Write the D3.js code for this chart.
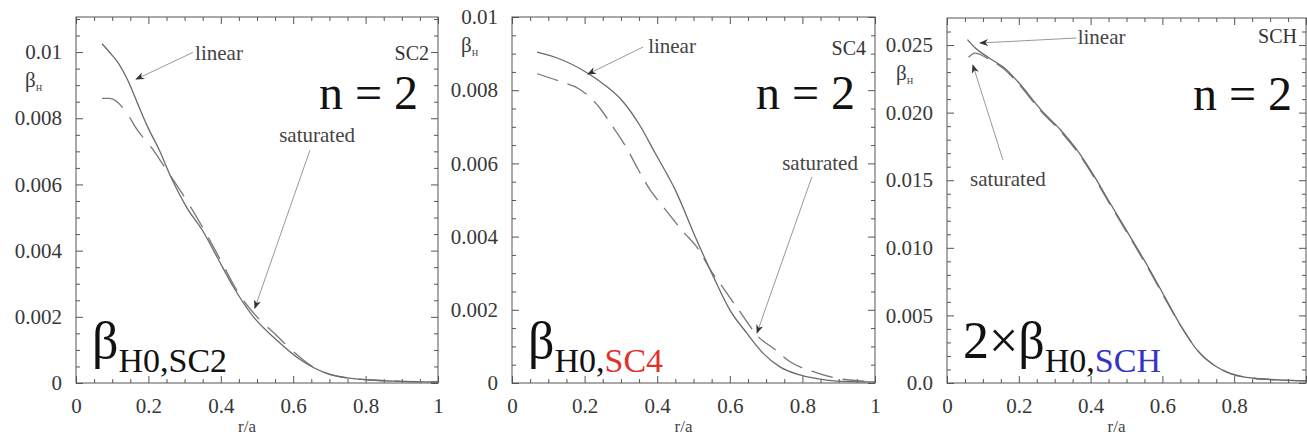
<!DOCTYPE html>
<html>
<head>
<meta charset="utf-8">
<script src="https://cdn.jsdelivr.net/npm/d3@7"></script>
<style>
  body { margin: 0; background: #fff; }
  svg { display: block; }
</style>
</head>
<body>
<div id="chart"></div>
<script>
// beta_H profiles vs r/a, n = 2, linear (solid) and saturated (dashed)

// x ticks shared by all panels
var xTicks = [0, 0.2, 0.4, 0.6, 0.8, 1];
var xTickLabels = ["0", "0.2", "0.4", "0.6", "0.8", "1"];
var xTickLabelsLast = ["0", "0.2", "0.4", "0.6", "0.8", ""];

// SC2
var sc2LinR   = [0.072, 0.10, 0.115, 0.143, 0.17, 0.198, 0.23, 0.262, 0.306, 0.35, 0.39, 0.435, 0.49, 0.554, 0.62, 0.69, 0.76, 0.81, 0.9, 1.0];
var sc2Linear = [0.01025, 0.0099, 0.0097, 0.00915, 0.00845, 0.00774, 0.00704, 0.00623, 0.0053, 0.0046, 0.0038, 0.0029, 0.0020, 0.0013, 0.0007, 0.0003, 0.00014, 0.00009, 0.00005, 0.00003];
var sc2SatR   = [0.072, 0.092, 0.138, 0.166, 0.216, 0.244, 0.295, 0.35, 0.40, 0.45, 0.50, 0.55, 0.60, 0.65, 0.70, 0.80, 0.90, 1.0];
var sc2Sat    = [0.0086, 0.0086, 0.0082, 0.0077, 0.0070, 0.00654, 0.0057, 0.0047, 0.0037, 0.0027, 0.0020, 0.00148, 0.00095, 0.00052, 0.00027, 0.0001, 0.00005, 0.00003];
var sc2YTicks = [0, 0.002, 0.004, 0.006, 0.008, 0.01];
var sc2YLabels = ["0", "0.002", "0.004", "0.006", "0.008", "0.01"];

// SC4
var sc4LinR   = [0.069, 0.119, 0.211, 0.257, 0.303, 0.349, 0.395, 0.45, 0.509, 0.555, 0.60, 0.647, 0.692, 0.738, 0.793, 0.867, 0.93, 1.0];
var sc4Linear = [0.00904, 0.0089, 0.00845, 0.00813, 0.00772, 0.00709, 0.00627, 0.00527, 0.0039, 0.0029, 0.0020, 0.00136, 0.00081, 0.00044, 0.00022, 0.00008, 0.00004, 0.00003];
var sc4SatR   = [0.069, 0.138, 0.184, 0.243, 0.275, 0.317, 0.344, 0.381, 0.417, 0.472, 0.509, 0.55, 0.583, 0.624, 0.683, 0.72, 0.766, 0.83, 0.894, 0.96, 1.0];
var sc4Sat    = [0.00845, 0.00822, 0.00804, 0.0075, 0.00704, 0.0064, 0.0059, 0.00527, 0.00481, 0.00413, 0.00372, 0.00304, 0.00258, 0.0020, 0.00122, 0.00095, 0.00058, 0.00031, 0.00013, 0.00006, 0.00004];
var sc4YTicks = [0, 0.002, 0.004, 0.006, 0.008, 0.01];
var sc4YLabels = ["0", "0.002", "0.004", "0.006", "0.008", "0.01"];

// SCH
var schLinR   = [0.057, 0.078, 0.114, 0.16, 0.197, 0.262, 0.317, 0.363, 0.41, 0.45, 0.504, 0.56, 0.606, 0.652, 0.698, 0.745, 0.79, 0.855, 0.95, 1.0];
var schLinear = [0.0254, 0.0248, 0.0241, 0.0233, 0.0223, 0.0202, 0.0187, 0.0172, 0.0153, 0.0135, 0.0111, 0.0086, 0.0064, 0.0042, 0.0024, 0.0013, 0.0007, 0.00035, 0.0002, 0.00015];
var schSatR   = [0.06, 0.078, 0.114, 0.16, 0.197, 0.262, 0.317, 0.363, 0.41, 0.45, 0.504, 0.56, 0.606, 0.652, 0.698, 0.745, 0.79, 0.855, 0.95, 1.0];
var schSat    = [0.0241, 0.0244, 0.0240, 0.0232, 0.0222, 0.0201, 0.0186, 0.0171, 0.0152, 0.0134, 0.0110, 0.0085, 0.0063, 0.0042, 0.0024, 0.0013, 0.0007, 0.00035, 0.0002, 0.00015];
var schYTicks = [0, 0.005, 0.01, 0.015, 0.02, 0.025];
var schYLabels = ["0.0", "0.005", "0.010", "0.015", "0.020", "0.025"];

var W = 1307, H = 440, bottom = 383;
var serif = '"Liberation Serif", "DejaVu Serif", serif';

var svg = d3.select('#chart').append('svg')
    .attr('width', W).attr('height', H)
    .attr('font-family', serif)
    .style('background', '#fff');

svg.append('defs').append('marker')
    .attr('id', 'head')
    .attr('viewBox', '0 0 10 10')
    .attr('refX', 9).attr('refY', 5)
    .attr('markerWidth', 9).attr('markerHeight', 9)
    .attr('markerUnits', 'userSpaceOnUse')
    .attr('orient', 'auto')
    .append('path').attr('d', 'M0,1 L10,5 L0,9 L3,5 Z').attr('fill', '#333');

function zip(r, v) {
    return r.map(function (d, i) { return { r: d, v: v[i] }; });
}

function drawPanel(p) {
    var x = d3.scaleLinear().domain([0, 1]).range([p.left, p.right]);
    var y = d3.scaleLinear().domain([0, p.yMax]).range([bottom, p.top]);
    var g = svg.append('g');

    var xMinor = d3.range(0, 1.0001, 0.05).filter(function (d) { return Math.abs(d * 5 - Math.round(d * 5)) > 1e-6; });
    var yMinor = d3.range(0, p.yMax, p.yMinor).filter(function (d) {
        return Math.abs(d / p.yStep - Math.round(d / p.yStep)) > 1e-6;
    });

    function styleAxis(a) {
        a.attr('font-family', null).attr('font-size', null);
        a.select('.domain').remove();
        a.selectAll('line').attr('stroke', '#555');
        a.selectAll('text').attr('fill', '#383838').attr('font-size', 21);
    }

    // major ticks with labels
    g.append('g').attr('transform', 'translate(0,' + bottom + ')')
        .call(d3.axisBottom(x).tickValues(xTicks).tickSize(-7).tickPadding(15)
            .tickFormat(function (d, i) { return p.xLabels[i]; }))
        .call(styleAxis);
    g.append('g').attr('transform', 'translate(' + p.left + ',0)')
        .call(d3.axisLeft(y).tickValues(p.yTicks).tickSize(-7).tickPadding(14)
            .tickFormat(function (d, i) { return p.yLabels[i]; }))
        .call(styleAxis);
    // opposite sides, ticks only
    g.append('g').attr('transform', 'translate(0,' + p.top + ')')
        .call(d3.axisTop(x).tickValues(xTicks).tickSize(-7).tickFormat(''))
        .call(styleAxis);
    g.append('g').attr('transform', 'translate(' + p.right + ',0)')
        .call(d3.axisRight(y).tickValues(p.yTicks).tickSize(-7).tickFormat(''))
        .call(styleAxis);
    // minor ticks
    g.append('g').attr('transform', 'translate(0,' + bottom + ')')
        .call(d3.axisBottom(x).tickValues(xMinor).tickSize(-4).tickFormat('')).call(styleAxis);
    g.append('g').attr('transform', 'translate(0,' + p.top + ')')
        .call(d3.axisTop(x).tickValues(xMinor).tickSize(-4).tickFormat('')).call(styleAxis);
    g.append('g').attr('transform', 'translate(' + p.left + ',0)')
        .call(d3.axisLeft(y).tickValues(yMinor).tickSize(-4).tickFormat('')).call(styleAxis);
    g.append('g').attr('transform', 'translate(' + p.right + ',0)')
        .call(d3.axisRight(y).tickValues(yMinor).tickSize(-4).tickFormat('')).call(styleAxis);

    // frame
    g.append('rect')
        .attr('x', p.left).attr('y', p.top)
        .attr('width', p.right - p.left).attr('height', bottom - p.top)
        .attr('fill', 'none').attr('stroke', '#555').attr('stroke-width', 1);

    var line = d3.line()
        .x(function (d) { return x(d.r); })
        .y(function (d) { return y(d.v); })
        .curve(d3.curveMonotoneX);

    g.append('path').datum(zip(p.satR, p.sat))
        .attr('d', line).attr('fill', 'none')
        .attr('stroke', '#777').attr('stroke-width', 1.3)
        .attr('stroke-dasharray', p.dash);
    g.append('path').datum(zip(p.linR, p.linear))
        .attr('d', line).attr('fill', 'none')
        .attr('stroke', '#6a6a6a').attr('stroke-width', 1.3);

    // axis titles
    g.append('text')
        .attr('x', (p.left + p.right) / 2 - 10).attr('y', 432)
        .attr('text-anchor', 'middle')
        .attr('font-size', 17).attr('fill', '#444')
        .text('r/a');
    var yl = g.append('text')
        .attr('x', p.left - 51).attr('y', y(p.yTicks[p.yTicks.length - 1]) + 35)
        .attr('fill', '#3a3a3a');
    yl.append('tspan').attr('font-size', 21).text('β');
    yl.append('tspan').attr('font-size', 9).attr('dy', 4).text('H');

    // case tag and n = 2
    g.append('text')
        .attr('x', p.right - 9).attr('y', p.tagY)
        .attr('text-anchor', 'end')
        .attr('font-size', 20).attr('fill', '#333')
        .text(p.tag);
    g.append('text')
        .attr('x', p.right - p.nPad).attr('y', p.top + 92)
        .attr('text-anchor', 'end')
        .attr('font-size', 48).attr('fill', '#111')
        .text('n = 2');

    // big label
    var bl = g.append('text')
        .attr('x', p.left + 16).attr('y', bottom - 25)
        .attr('fill', '#111');
    bl.append('tspan').attr('font-size', 52).text(p.prefix + 'β');
    bl.append('tspan').attr('font-size', 34).attr('dy', 14).text('H0,');
    bl.append('tspan').attr('font-size', 34).attr('fill', p.caseColor).text(p.tag);

    // annotations
    p.notes.forEach(function (n) {
        g.append('line')
            .attr('x1', x(n.from[0])).attr('y1', y(n.from[1]))
            .attr('x2', x(n.to[0])).attr('y2', y(n.to[1]))
            .attr('stroke', '#999').attr('stroke-width', 1)
            .attr('marker-end', 'url(#head)');
        g.append('text')
            .attr('x', x(n.at[0])).attr('y', y(n.at[1]))
            .attr('text-anchor', n.anchor)
            .attr('font-size', 21).attr('fill', '#444')
            .text(n.text);
    });
}

var panels = [
    {
        left: 76, right: 438, top: 17, yMax: 0.01106, yStep: 0.002, yMinor: 0.0005,
        yTicks: sc2YTicks, yLabels: sc2YLabels, xLabels: xTickLabels,
        linR: sc2LinR, linear: sc2Linear, satR: sc2SatR, sat: sc2Sat, dash: '24,12',
        tag: 'SC2', tagY: 60, nPad: 20, prefix: '', caseColor: '#111',
        notes: [
            { text: 'linear', at: [0.329, 0.00975], anchor: 'start', from: [0.323, 0.00999], to: [0.166, 0.00918] },
            { text: 'saturated', at: [0.666, 0.00727], anchor: 'middle', from: [0.646, 0.00703], to: [0.494, 0.00226] }
        ]
    },
    {
        left: 512, right: 875, top: 17, yMax: 0.01, yStep: 0.002, yMinor: 0.0005,
        yTicks: sc4YTicks, yLabels: sc4YLabels, xLabels: xTickLabels,
        linR: sc4LinR, linear: sc4Linear, satR: sc4SatR, sat: sc4Sat, dash: '22,10',
        tag: 'SC4', tagY: 55, nPad: 20, prefix: '', caseColor: '#e2302b',
        notes: [
            { text: 'linear', at: [0.375, 0.00902], anchor: 'start', from: [0.361, 0.00918], to: [0.209, 0.00844] },
            { text: 'saturated', at: [0.953, 0.00582], anchor: 'end', from: [0.826, 0.00563], to: [0.675, 0.00137] }
        ]
    },
    {
        left: 947, right: 1306, top: 18, yMax: 0.027, yStep: 0.005, yMinor: 0.001,
        yTicks: schYTicks, yLabels: schYLabels, xLabels: xTickLabelsLast,
        linR: schLinR, linear: schLinear, satR: schSatR, sat: schSat, dash: '22,10',
        tag: 'SCH', tagY: 43, nPad: 14, prefix: '2×', caseColor: '#3434c8',
        notes: [
            { text: 'linear', at: [0.364, 0.02507], anchor: 'start', from: [0.361, 0.02552], to: [0.092, 0.02515] },
            { text: 'saturated', at: [0.064, 0.01457], anchor: 'start', from: [0.156, 0.01649], to: [0.072, 0.02352] }
        ]
    }
];

panels.forEach(drawPanel);
</script>
</body>
</html>
